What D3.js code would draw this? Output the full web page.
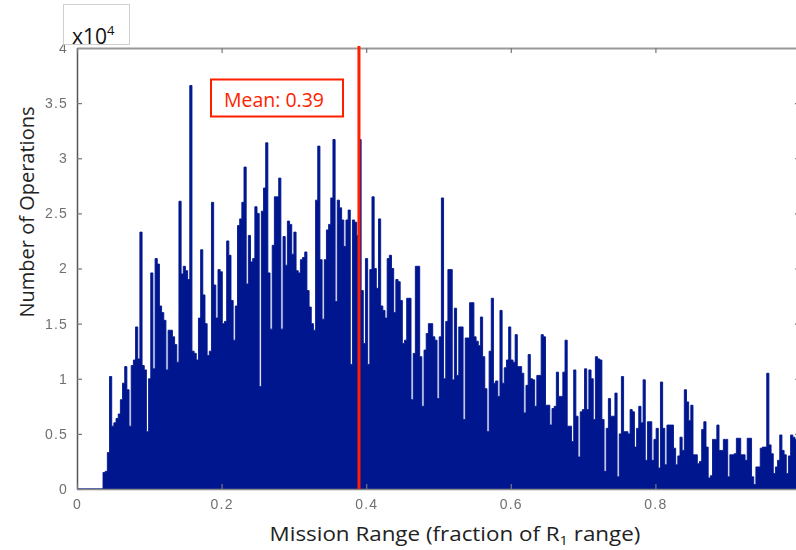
<!DOCTYPE html>
<html>
<head>
<meta charset="utf-8">
<script src="https://cdn.jsdelivr.net/npm/d3@7"></script>
<style>
  body { margin: 0; background: #fff; }
  svg { display: block; }
</style>
</head>
<body>
<script>
// Histogram bins: left edge of the first bin and the common bin width (fraction of R1 range)
const binStart = 0;
const binWidth = 0.003;

// Operations per bin, in units of 10^4
const counts = [
  0, 0, 0, 0, 0, 0, 0, 0, 0, 0, 0, 0,
  0.15, 0.16, 0.33, 1.02, 0.57,
  0.60, 0.64, 0.68, 0.81, 0.96,
  1.11, 0.90, 0.57, 1.12, 1.17,
  1.47, 1.18, 2.33, 1.12, 1.08,
  0.52, 1.00, 1.96, 1.09, 2.09,
  2.04, 1.66, 1.60, 1.53, 1.08,
  1.44, 1.44, 1.38, 1.31, 1.15,
  2.61, 1.95, 2.02, 1.98, 1.90,
  3.66, 1.25, 1.23, 1.17, 1.55,
  2.17, 1.76, 1.50, 1.21, 1.25,
  2.60, 1.85, 1.55, 1.99, 1.97,
  1.50, 1.52, 2.25, 2.12, 1.71,
  1.35, 1.66, 2.39, 2.45, 2.60,
  2.92, 1.86, 2.30, 2.06, 2.09,
  2.56, 2.50, 0.93, 2.52, 2.73,
  3.14, 1.96, 1.45, 2.21, 2.65,
  2.65, 2.82, 1.45, 2.29, 2.03,
  2.43, 2.40, 2.13, 2.33, 1.98,
  1.96, 2.08, 2.10, 2.15, 1.80,
  1.65, 1.50, 1.44, 2.62, 3.11,
  2.08, 1.54, 2.08, 2.35, 2.40,
  2.64, 3.17, 1.70, 2.62, 2.55,
  2.44, 2.20, 2.44, 2.53, 1.13,
  2.44, 2.42, 2.30, 3.17, 1.80,
  1.32, 2.09, 1.13, 1.99, 2.65,
  2.00, 1.82, 2.45, 1.66, 1.62,
  1.55, 2.09, 2.12, 2.00, 1.60,
  1.90, 1.88, 1.71, 1.32, 1.35,
  1.73, 1.73, 0.81, 1.23, 2.02,
  2.02, 1.20, 0.75, 1.26, 1.41,
  1.50, 1.50, 1.38, 1.35, 0.82,
  1.38, 2.64, 1.00, 1.52, 1.99,
  1.99, 0.99, 1.64, 1.03, 1.47,
  1.47, 0.63, 1.37, 1.37, 1.69,
  1.69, 1.38, 1.34, 1.30, 1.56,
  1.20, 0.91, 0.52, 1.25, 1.73,
  0.96, 0.98, 0.84, 1.62, 0.96,
  1.10, 1.17, 1.47, 1.17, 1.15,
  1.40, 1.11, 1.11, 1.05, 0.69,
  0.94, 1.22, 1.00, 0.99, 0.75,
  1.03, 1.03, 1.40, 1.38, 0.76,
  0.76, 0.58, 0.73, 0.75, 1.06,
  0.84, 0.84, 1.06, 1.35, 0.57,
  0.57, 0.43, 1.08, 0.66, 0.29,
  0.70, 0.72, 1.09, 0.72, 1.08,
  1.00, 0.63, 1.20, 1.18, 1.17,
  0.63, 0.16, 0.55, 0.82, 0.66,
  0.66, 0.87, 0.11, 0.50, 1.02,
  0.52, 0.52, 0.50, 0.72, 0.70,
  0.38, 0.55, 0.75, 0.60, 0.99,
  0.26, 0.61, 0.61, 0.26, 0.45,
  0.55, 0.19, 0.97, 0.55, 0.22,
  0.58, 0.58, 0.58, 0.37, 0.22,
  0.30, 0.47, 0.35, 0.90, 0.79,
  0.62, 0.76, 0.31, 0.31, 0.23,
  0.25, 0.54, 0.61, 0.38, 0.10,
  0.12, 0.45, 0.45, 0.58, 0.35,
  0.35, 0.45, 0.45, 0.11, 0.31,
  0.31, 0.32, 0.46, 0.46, 0.31,
  0.31, 0.26, 0.46, 0.46, 0.11,
  0.04, 0.20, 0.20, 0.37, 0.38,
  0.38, 1.05, 0.40, 0.32, 0.14,
  0.20, 0.26, 0.49, 0.35, 0.31,
  0.14, 0.30, 0.49, 0.47, 0.45, 0.40
];

const meanRange = 0.39;
const meanLabel = "Mean: 0.39";

const xTickValues = [0, 0.2, 0.4, 0.6, 0.8];
const xTickLabels = ["0", "0.2", "0.4", "0.6", "0.8"];
const yTickValues = [0, 0.5, 1, 1.5, 2, 2.5, 3, 3.5, 4];
const yTickLabels = ["0", "0.5", "1", "1.5", "2", "2.5", "3", "3.5", "4"];
const yExponent = "4";

const yTitle = "Number of Operations";
const xTitleParts = ["Mission Range (fraction of R", "1", " range)"];

const W = 796, H = 550;
const svg = d3.select("body").append("svg").attr("width", W).attr("height", H);

const x = d3.scaleLinear().domain([0, 1]).range([77, 800]);
const y = d3.scaleLinear().domain([0, 4]).range([489, 48]);

const defs = svg.append("defs");
// softening for the dense bars (drawn in page coordinates)
defs.append("filter")
  .attr("id", "soft")
  .attr("filterUnits", "userSpaceOnUse")
  .attr("x", 0).attr("y", 0).attr("width", W).attr("height", H)
  .append("feGaussianBlur").attr("stdDeviation", 0.55);
// softening for tick labels, sized from each label's own box
defs.append("filter")
  .attr("id", "softText")
  .attr("x", "-50%").attr("y", "-50%").attr("width", "200%").attr("height", "200%")
  .append("feGaussianBlur").attr("stdDeviation", 0.35);

// histogram drawn as one stepped outline so neighbouring bins join without seams
const steps = counts.flatMap((d, i) => [
  [binStart + i * binWidth, d],
  [binStart + (i + 1) * binWidth, d]
]);
const histArea = d3.area()
  .x(p => x(p[0]))
  .y0(y(0))
  .y1(p => y(p[1]));

svg.append("path")
  .datum(steps)
  .attr("d", histArea)
  .attr("fill", "#03178f")
  .attr("stroke", "#03178f")
  .attr("stroke-width", 0.9)
  .attr("stroke-linejoin", "miter")
  .attr("filter", "url(#soft)");

const tickFont = "'Liberation Sans', Arial, sans-serif";

function styleAxis(g, domainColor, domainWidth) {
  g.select(".domain").attr("stroke", domainColor).attr("stroke-width", domainWidth);
  g.selectAll(".tick line").attr("stroke", "#777").attr("stroke-width", 1.2);
  g.selectAll(".tick text")
    .attr("fill", "#707070")
    .attr("font-family", tickFont)
    .attr("font-size", 14)
    .attr("letter-spacing", 1.2)
    .attr("filter", "url(#softText)");
}

// left axis
svg.append("g")
  .attr("transform", `translate(${x(0)},0)`)
  .call(d3.axisLeft(y).tickValues(yTickValues)
    .tickFormat((d, i) => yTickLabels[i])
    .tickSizeInner(-5).tickSizeOuter(0).tickPadding(9))
  .call(g => styleAxis(g, "#555", 1.5));

// right axis (frame edge)
svg.append("g")
  .attr("transform", `translate(${x(1)},0)`)
  .call(d3.axisRight(y).tickValues(yTickValues).tickFormat("")
    .tickSizeInner(-5).tickSizeOuter(0))
  .call(g => styleAxis(g, "#888", 1.5));

// top axis (frame edge)
svg.append("g")
  .attr("transform", `translate(0,${y(4)})`)
  .call(d3.axisTop(x).tickValues(xTickValues).tickFormat("")
    .tickSizeInner(-5).tickSizeOuter(0))
  .call(g => styleAxis(g, "#999", 2));

// bottom axis
svg.append("g")
  .attr("transform", `translate(0,${y(0)})`)
  .call(d3.axisBottom(x).tickValues(xTickValues)
    .tickFormat((d, i) => xTickLabels[i])
    .tickSizeInner(-5).tickSizeOuter(0).tickPadding(10))
  .call(g => styleAxis(g, "#888", 1.5));

// exponent box above the y axis
svg.append("rect")
  .attr("x", 63.5).attr("y", 4.5).attr("width", 66).attr("height", 40)
  .attr("fill", "#fff").attr("stroke", "#cfcfcf").attr("stroke-width", 1);
const expText = svg.append("text")
  .attr("x", 72).attr("y", 43.5)
  .attr("font-family", "'Open Sans', sans-serif")
  .attr("font-size", 21)
  .attr("fill", "#111");
expText.append("tspan").text("x10");
expText.append("tspan").attr("font-size", 13).attr("dy", -9).text(yExponent);

// mean marker
svg.append("line")
  .attr("x1", x(meanRange)).attr("x2", x(meanRange))
  .attr("y1", 46).attr("y2", y(0))
  .attr("stroke", "#ff1e00").attr("stroke-width", 3);

svg.append("rect")
  .attr("x", 211).attr("y", 79.5).attr("width", 132).attr("height", 37)
  .attr("fill", "#fff").attr("stroke", "#ff1e00").attr("stroke-width", 2);
svg.append("text")
  .attr("x", 274).attr("y", 107)
  .attr("text-anchor", "middle")
  .attr("font-family", "'Open Sans', sans-serif")
  .attr("font-size", 19.5)
  .attr("fill", "#ff1e00")
  .text(meanLabel);

// axis titles
svg.append("text")
  .attr("transform", "translate(34,212) rotate(-90)")
  .attr("text-anchor", "middle")
  .attr("font-family", "'Open Sans', sans-serif")
  .attr("font-size", 20)
  .attr("fill", "#222")
  .text(yTitle);

const xt = svg.append("text")
  .attr("transform", "translate(455,541) scale(1.12,1)")
  .attr("text-anchor", "middle")
  .attr("font-family", "'Open Sans', sans-serif")
  .attr("font-size", 20)
  .attr("fill", "#222");
xt.append("tspan").text(xTitleParts[0]);
xt.append("tspan").attr("font-size", 13).attr("dy", 4).text(xTitleParts[1]);
xt.append("tspan").attr("dy", -4).text(xTitleParts[2]);
</script>
</body>
</html>
